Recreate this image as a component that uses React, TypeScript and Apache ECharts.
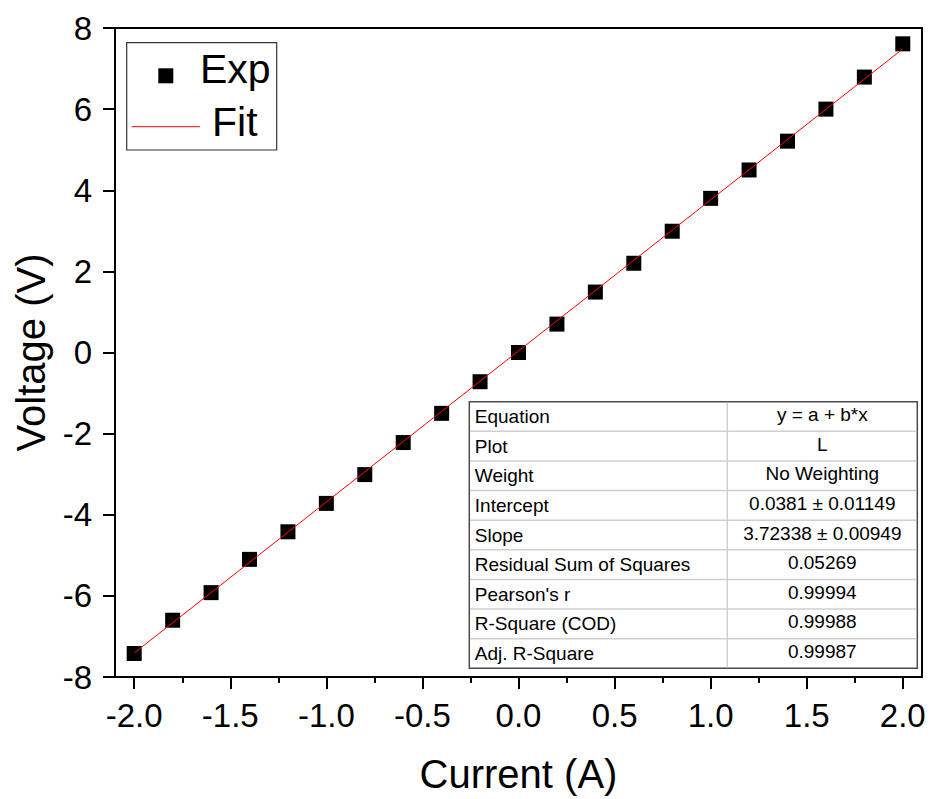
import React, { useEffect, useRef } from "react";
import * as echarts from "echarts";

const currentA = [-2.0, -1.8, -1.6, -1.4, -1.2, -1.0, -0.8, -0.6, -0.4, -0.2, 0.0, 0.2, 0.4, 0.6, 0.8, 1.0, 1.2, 1.4, 1.6, 1.8, 2.0];
const voltageV = [-7.42, -6.6, -5.92, -5.1, -4.42, -3.72, -3.01, -2.22, -1.5, -0.72, 0.0, 0.7, 1.49, 2.2, 2.99, 3.8, 4.5, 5.21, 6.0, 6.79, 7.61];

const FIT_INTERCEPT = 0.0381;
const FIT_SLOPE = 3.72338;

const xTickValues = [-2.0, -1.5, -1.0, -0.5, 0.0, 0.5, 1.0, 1.5, 2.0];
const xMinorTickValues = [-1.75, -1.25, -0.75, -0.25, 0.25, 0.75, 1.25, 1.75];
const yTickValues = [-8, -6, -4, -2, 0, 2, 4, 6, 8];

const legendNames = ["Exp", "Fit"];
const tableLabels = [
  "Equation",
  "Plot",
  "Weight",
  "Intercept",
  "Slope",
  "Residual Sum of Squares",
  "Pearson's r",
  "R-Square (COD)",
  "Adj. R-Square",
];
const tableValues = [
  "y = a + b*x",
  "L",
  "No Weighting",
  "0.0381 \u00b1 0.01149",
  "3.72338 \u00b1 0.00949",
  "0.05269",
  "0.99994",
  "0.99988",
  "0.99987",
];

const FONT = "'Liberation Sans', Arial, Helvetica, sans-serif";

export default function App() {
  const ref = useRef<HTMLDivElement>(null);

  useEffect(() => {
    if (!ref.current) return;
    const chart = echarts.init(ref.current, null, { renderer: "svg" });

    const xFitStart = currentA[0];
    const xFitEnd = currentA[currentA.length - 1];
    const fitData = [
      [xFitStart, FIT_INTERCEPT + FIT_SLOPE * xFitStart],
      [xFitEnd, FIT_INTERCEPT + FIT_SLOPE * xFitEnd],
    ];
    const expData = currentA.map((x, i) => [x, voltageV[i]]);

    // table geometry
    const tX = 469.3, tY = 401.7, tW = 448, tH = 266.6, colX = 727.3;
    const rowH = tH / tableLabels.length;
    const tableEls: any[] = [];
    tableEls.push({
      type: "rect",
      shape: { x: tX, y: tY, width: tW, height: tH },
      style: { fill: "#fff", stroke: "#4a4a4a", lineWidth: 1.5 },
      z: 100,
    });
    for (let i = 1; i < tableLabels.length; i++) {
      tableEls.push({
        type: "line",
        shape: { x1: tX + 1, y1: tY + rowH * i, x2: tX + tW - 1, y2: tY + rowH * i },
        style: { stroke: "#cfcfcf", lineWidth: 1.5 },
        z: 101,
      });
    }
    tableEls.push({
      type: "line",
      shape: { x1: colX, y1: tY + 1, x2: colX, y2: tY + tH - 1 },
      style: { stroke: "#cfcfcf", lineWidth: 1.5 },
      z: 101,
    });
    tableLabels.forEach((lab, i) => {
      tableEls.push({
        type: "text",
        x: tX + 5.5,
        y: tY + rowH * (i + 0.5),
        style: { text: lab, fill: "#000", fontSize: 19, fontFamily: FONT, align: "left", verticalAlign: "middle" },
        z: 102,
      });
      tableEls.push({
        type: "text",
        x: (colX + tX + tW) / 2,
        y: tY + rowH * (i + 0.5) - 2,
        style: { text: tableValues[i], fill: "#000", fontSize: 19, fontFamily: FONT, align: "center", verticalAlign: "middle" },
        z: 102,
      });
    });

    const legendEls: any[] = [
      {
        type: "rect",
        shape: { x: 126.7, y: 42.7, width: 150, height: 107.3 },
        style: { fill: "#fff", stroke: "#333", lineWidth: 1.2 },
        z: 100,
      },
      {
        type: "rect",
        shape: { x: 158.3, y: 68.3, width: 15, height: 15 },
        style: { fill: "#000" },
        z: 101,
      },
      {
        type: "text",
        x: 200,
        y: 69,
        style: { text: legendNames[0], fill: "#000", fontSize: 41, fontFamily: FONT, align: "left", verticalAlign: "middle" },
        z: 101,
      },
      {
        type: "line",
        shape: { x1: 131.7, y1: 126.7, x2: 200, y2: 126.7 },
        style: { stroke: "#ff0000", lineWidth: 1 },
        z: 101,
      },
      {
        type: "text",
        x: 212,
        y: 122,
        style: { text: legendNames[1], fill: "#000", fontSize: 41, fontFamily: FONT, align: "left", verticalAlign: "middle" },
        z: 101,
      },
    ];

    chart.setOption({
      animation: false,
      backgroundColor: "#fff",
      textStyle: { fontFamily: FONT },
      grid: {
        left: 115,
        right: 11,
        top: 28,
        bottom: 122,
        show: true,
        borderColor: "#000",
        borderWidth: 2,
        backgroundColor: "transparent",
        containLabel: false,
        outerBoundsMode: "none",
      },
      xAxis: [
        {
          type: "value",
          min: -2.1,
          max: 2.1,
          position: "bottom",
          axisLine: { show: true, onZero: false, lineStyle: { color: "#000", width: 2 } },
          axisTick: { show: true, inside: false, length: 12, lineStyle: { color: "#000", width: 2 }, customValues: xTickValues },
          axisLabel: {
            show: true,
            customValues: xTickValues,
            formatter: (v: number) => v.toFixed(1),
            fontSize: 33,
            color: "#000",
            fontFamily: FONT,
            margin: 22,
          },
          splitLine: { show: false },
          name: "Current (A)",
          nameLocation: "middle",
          nameGap: 77,
          nameTextStyle: { fontSize: 40, color: "#000", fontFamily: FONT },
        },
        {
          type: "value",
          min: -2.1,
          max: 2.1,
          position: "bottom",
          axisLine: { show: false, onZero: false },
          axisTick: { show: true, inside: false, length: 6, lineStyle: { color: "#000", width: 2 }, customValues: xMinorTickValues },
          axisLabel: { show: false },
          splitLine: { show: false },
        },
      ],
      yAxis: {
        type: "value",
        min: -8,
        max: 8,
        interval: 2,
        position: "left",
        axisLine: { show: true, onZero: false, lineStyle: { color: "#000", width: 2 } },
        axisTick: { show: true, inside: false, length: 12, lineStyle: { color: "#000", width: 2 }, customValues: yTickValues },
        axisLabel: {
          show: true,
          customValues: yTickValues,
          formatter: (v: number) => String(v),
          fontSize: 33,
          color: "#000",
          fontFamily: FONT,
          margin: 23,
        },
        splitLine: { show: false },
        name: "Voltage (V)",
        nameLocation: "middle",
        nameGap: 64,
        nameTextStyle: { fontSize: 40, color: "#000", fontFamily: FONT },
      },
      series: [
        {
          name: legendNames[0],
          type: "scatter",
          xAxisIndex: 0,
          yAxisIndex: 0,
          data: expData,
          symbol: "rect",
          symbolSize: 15,
          itemStyle: { color: "#000", opacity: 1 },
          z: 2,
        },
        {
          name: legendNames[1],
          type: "line",
          xAxisIndex: 0,
          yAxisIndex: 0,
          data: fitData,
          showSymbol: false,
          symbol: "none",
          lineStyle: { color: "#ff0000", width: 1 },
          z: 3,
        },
      ],
      graphic: [...legendEls, ...tableEls],
    });

    return () => {
      chart.dispose();
    };
  }, []);

  return (
    <div
      ref={ref}
      style={{ position: "fixed", left: 0, top: 0, width: 933, height: 799, background: "#fff" }}
    />
  );
}
